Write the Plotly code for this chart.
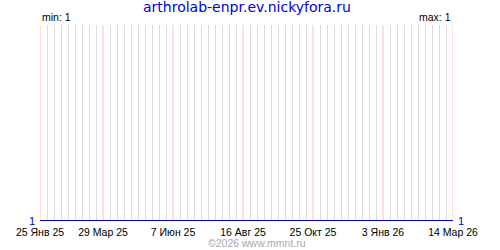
import plotly.graph_objects as go
import pandas as pd

# Data
dates = ["2025-01-25", "2026-03-14"]
values = [1, 1]
tick_dates = ["2025-01-25", "2025-03-29", "2025-06-07", "2025-08-16",
              "2025-10-25", "2026-01-03", "2026-03-14"]
tick_labels = ["25 Янв 25", "29 Мар 25", "7 Июн 25", "16 Авг 25",
               "25 Окт 25", "3 Янв 26", "14 Мар 26"]
title_text = "arthrolab-enpr.ev.nickyfora.ru"
min_text = "min: 1"
max_text = "max: 1"
footer_text = "©2026 www.mmnt.ru"

FONT = "Liberation Sans"
TFONT = "DejaVu Sans"

# weekly grid positions (skipping the labelled, red ones)
weeks = [d.strftime("%Y-%m-%d") for d in pd.date_range(dates[0], dates[-1], freq="7D")]
week_grid = [d for d in weeks if d not in tick_dates]

fig = go.Figure()
fig.add_trace(go.Scatter(x=dates, y=values, mode="lines",
                         line=dict(color="#0000dd", width=2),
                         cliponaxis=False, showlegend=False, hoverinfo="skip"))
# invisible trace carrying the right axis
fig.add_trace(go.Scatter(x=dates, y=values, mode="lines", yaxis="y2",
                         line=dict(color="rgba(0,0,0,0)", width=0),
                         showlegend=False, hoverinfo="skip"))

# red grid lines at the labelled dates
for d in tick_dates:
    fig.add_shape(type="line", xref="x", yref="paper", x0=d, x1=d, y0=0, y1=1,
                  line=dict(color="#ffc0c0", width=1), layer="between")

fig.update_layout(
    width=500, height=250,
    margin=dict(l=40, r=47, t=25, b=25),
    paper_bgcolor="white", plot_bgcolor="white",
    font=dict(family=FONT, size=10, color="black"),
    xaxis=dict(
        type="date", range=[dates[0], dates[-1]],
        tickmode="array", tickvals=tick_dates, ticktext=tick_labels,
        showgrid=False,
        minor=dict(tickmode="array", tickvals=week_grid, showgrid=True,
                   gridcolor="#dcdcdc", gridwidth=1, ticks=""),
        zeroline=False, showline=False, ticks="", ticklabelstandoff=3,
        tickfont=dict(family=FONT, size=10.5, color="black"),
    ),
    yaxis=dict(range=[1, 2], showgrid=False, zeroline=False, showline=False,
               tickmode="array", tickvals=[1], ticktext=["1"], ticks="",
               ticklabelstandoff=4,
               tickfont=dict(family=FONT, size=11, color="#0000dd")),
    yaxis2=dict(range=[1, 2], overlaying="y", side="right", showgrid=False,
                zeroline=False, showline=False,
                tickmode="array", tickvals=[1], ticktext=["1"], ticks="",
                ticklabelstandoff=4,
                tickfont=dict(family=FONT, size=11, color="#0000dd")),
    annotations=[
        dict(text=title_text, x=0.5, y=1, xref="paper", yref="paper",
             xanchor="center", yanchor="bottom", yshift=8, showarrow=False,
             font=dict(family=TFONT, size=14, color="#0000dd")),
        dict(text=min_text, x=0, y=1, xref="paper", yref="paper",
             xanchor="left", yanchor="bottom", showarrow=False,
             font=dict(family=FONT, size=10.5, color="black")),
        dict(text=max_text, x=1, y=1, xref="paper", yref="paper",
             xanchor="right", yanchor="bottom", showarrow=False,
             font=dict(family=FONT, size=10.5, color="black")),
        dict(text=footer_text, x=0.5, y=0, xref="paper", yref="paper",
             xanchor="center", yanchor="top", yshift=-14, xshift=10,
             showarrow=False,
             font=dict(family=FONT, size=10.5, color="#a8a8a8")),
    ],
)

fig.write_html("out.html")
